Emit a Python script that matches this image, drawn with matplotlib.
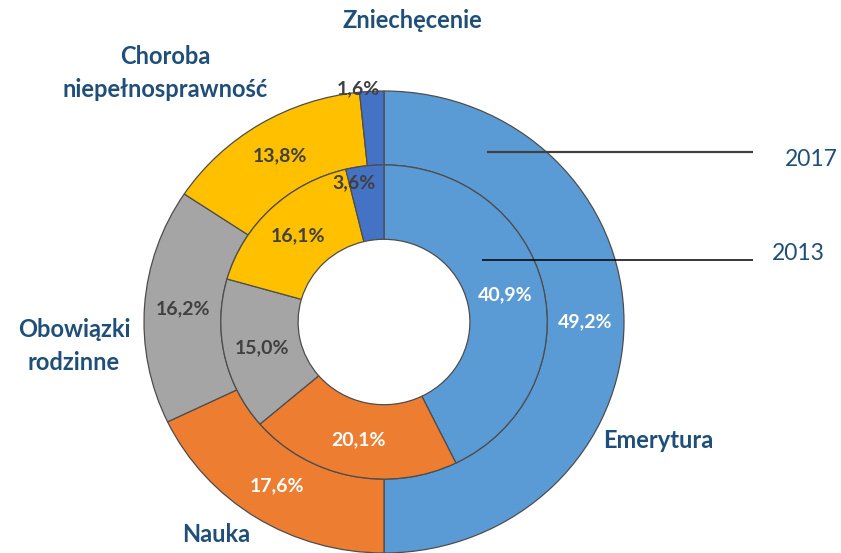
import matplotlib
matplotlib.use('Agg')
import matplotlib.pyplot as plt
import numpy as np

categories = ['Emerytura', 'Nauka', 'Obowiązki\nrodzinne', 'Choroba\nniepełnosprawność', 'Zniechęcenie']
values_2017 = [49.2, 17.6, 16.2, 13.8, 1.6]
values_2013 = [40.9, 20.1, 15.0, 16.1, 3.6]
series_names = ['2017', '2013']

colors = ['#5B9BD5', '#ED7D31', '#A5A5A5', '#FFC000', '#4472C4']
pct_colors = ['white', 'white', '#404040', '#404040', '#404040']
navy = '#1F4E79'
FONT = 'Lato'

W, H = 841, 553
fig = plt.figure(figsize=(W / 100, H / 100), dpi=100)
ax = fig.add_axes([0, 0, 1, 1])

# pixel geometry of the chart centre / radius
CX, CY = 384, 322
SX, SY = 240, 231


def px(x, y):
    """pixel (from top-left) -> data coords"""
    return (x - CX) / SX, (CY - y) / SY


R_OUT, W_OUT = 1.0, 0.32
R_IN, W_IN = 0.68, 0.322
edge = dict(edgecolor='#4d4d4d', linewidth=0.9)

w_out, _ = ax.pie(values_2017, colors=colors, startangle=90, counterclock=False,
                  radius=R_OUT, wedgeprops=dict(width=W_OUT, **edge))
w_in, _ = ax.pie(values_2013, colors=colors, startangle=90, counterclock=False,
                 radius=R_IN, wedgeprops=dict(width=W_IN, **edge))

ax.set_aspect('auto')
ax.set_xlim(-CX / SX, (W - CX) / SX)
ax.set_ylim(-(H - CY) / SY, CY / SY)
ax.axis('off')


def fmt(v):
    return f'{v:.1f}%'.replace('.', ',')


def place(wedges, vals, r_mid, special=None):
    for i, (w, v) in enumerate(zip(wedges, vals)):
        ang = np.deg2rad((w.theta1 + w.theta2) / 2)
        r = r_mid
        if special and i in special:
            r, dang = special[i]
            ang += np.deg2rad(dang)
        ax.text(r * np.cos(ang), r * np.sin(ang), fmt(v), ha='center', va='center',
                color=pct_colors[i], fontsize=14, fontweight='bold', family=FONT)


place(w_out, values_2017, R_OUT - W_OUT / 2, special={4: (1.015, 3.2)})
place(w_in, values_2013, R_IN - W_IN / 2, special={4: (0.615, 4.9)})

# category labels
cat_pos = [(658, 440), (216, 535), (74, 346), (165, 73), (412, 20)]
for name, (x, y) in zip(categories, cat_pos):
    dx, dy = px(x, y)
    ax.text(dx, dy, name, ha='center', va='center', color=navy, fontsize=17,
            fontweight='bold', family=FONT, linespacing=1.5)

# series leader lines
lines = [((487, 753, 152), '#404040', 1.6, (811, 160)),
         ((482, 753, 260), '#000000', 1.1, (798, 253))]
for name, ((x0, x1, y), c, lw, (tx, ty)) in zip(series_names, lines):
    a0, b = px(x0, y)
    a1, _ = px(x1, y)
    ax.plot([a0, a1], [b, b], color=c, lw=lw, solid_capstyle='butt')
    tdx, tdy = px(tx, ty)
    ax.text(tdx, tdy, name, ha='center', va='center', color=navy, fontsize=16.5,
            family=FONT)

fig.savefig('out.png', dpi=100)
